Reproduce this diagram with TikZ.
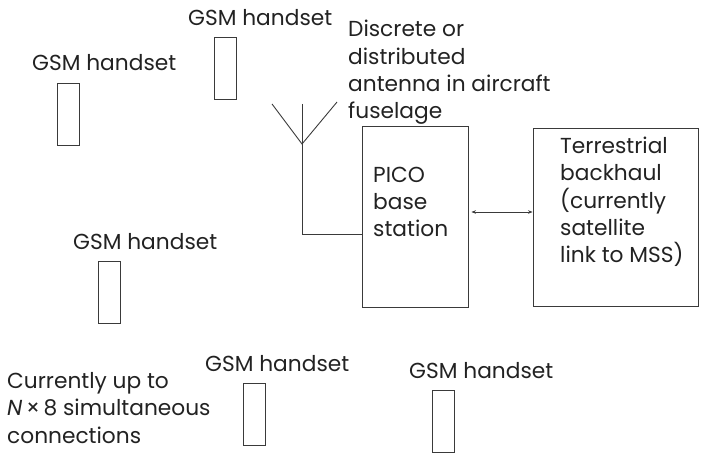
\documentclass[tikz,border=0pt]{standalone}
\usepackage{fontspec}
\setmainfont{Poppins}
\usetikzlibrary{arrows.meta,positioning}
\definecolor{ink}{HTML}{222222}
\definecolor{wire}{HTML}{3A3A3A}
\tikzset{
  lbl/.style    ={inner sep=0pt,align=left,text=ink,anchor=base west,
                  font=\fontsize{21.8}{27.5}\selectfont},
  handset/.style={draw=wire,line width=0.9pt,minimum width=22bp,
                  minimum height=62bp,inner sep=0pt},
  block/.style  ={draw=wire,line width=0.9pt,inner sep=0pt},
  wireline/.style={draw=wire,line width=0.9pt},
  link/.style   ={{Stealth[length=4.5bp,width=3.5bp]}-{Stealth[length=4.5bp,width=3.5bp]},
                  line width=0.7pt,draw=wire}
}
\begin{document}
\begin{tikzpicture}[x=1bp,y=-1bp]
  \useasboundingbox (0,0) rectangle (703,454);
  % handsets
  \node[handset] (h1) at (225,68) {};
  \node[handset] (h2) at (68,114) {};
  \node[handset] (h3) at (109.5,292.5) {};
  \node[handset] (h4) at (254,414) {};
  \node[handset] (h5) at (443.5,421) {};
  \node[lbl] (h1lbl) at (188,26) {GSM handset};
  \node[lbl] (h2lbl) at (32,71) {GSM handset};
  \node[lbl] (h3lbl) at (73,250) {GSM handset};
  \node[lbl] (h4lbl) at (205,371) {GSM handset};
  \node[lbl] (h5lbl) at (409,378) {GSM handset};
  % multi-line labels: base = last line
  \node[lbl] (capacity) at (7,443) {Currently up to\\\textit{N}\,×\,8 simultaneous\\connections};
  % base station and backhaul
  \node[block,minimum width=106bp,minimum height=181bp] (pico) at (415,216.5) {};
  \node[block,minimum width=165bp,minimum height=178bp] (terr) at (615.5,217) {};
  \node[lbl] (picotxt) at (373,237) {PICO\\base\\station};
  \node[lbl] (terrtxt) at (560,263) {Terrestrial\\backhaul\\(currently\\satellite\\link to MSS)};
  \draw[link,shorten <=3bp] ([yshift=4.5bp]pico.east) -- ([yshift=4.5bp]pico.east -| terr.west);
  % antenna
  \coordinate (tipL) at (272,104);
  \coordinate (tipR) at (337,102);
  \coordinate (feed) at (302,144);
  \coordinate (mast) at (302,104);
  \coordinate (foot) at (302,234);
  \draw[wireline] (tipL) -- (feed) -- (tipR);
  \draw[wireline] (mast) -- (foot) -- (foot -| pico.west);
  \node[lbl] (anttxt) at (348,119) {Discrete or\\distributed\\antenna in aircraft\\fuselage};
\end{tikzpicture}
\end{document}
